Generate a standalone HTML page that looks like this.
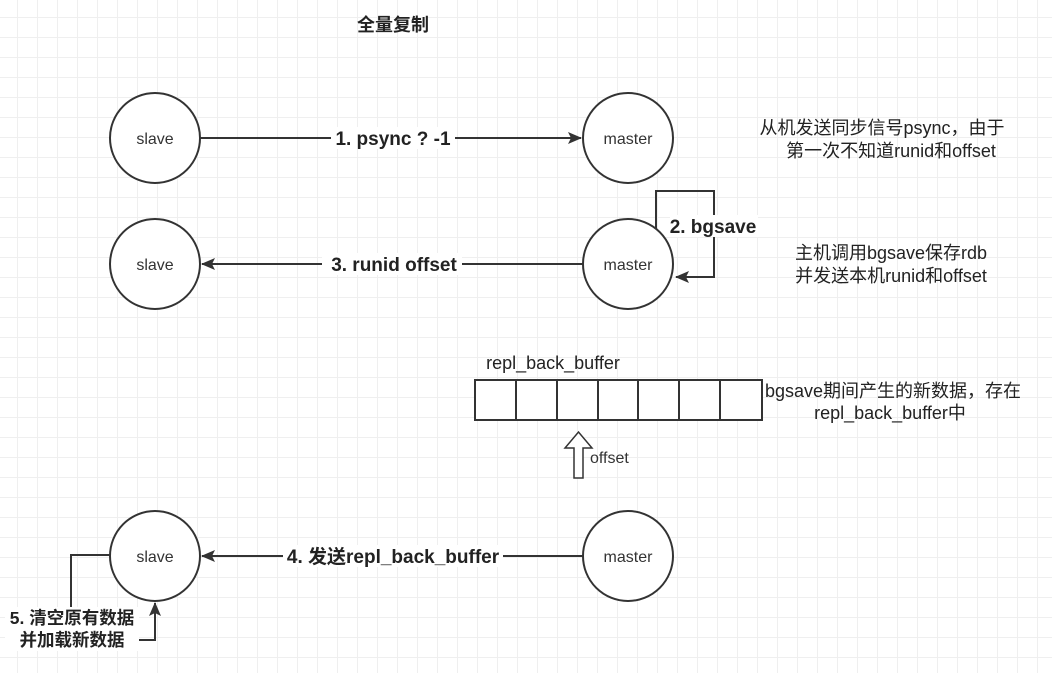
<!DOCTYPE html>
<html><head><meta charset="utf-8"><style>
body{margin:0;width:1052px;height:668px;overflow:hidden;background:#fff;
background-image:linear-gradient(#efefef 1px,transparent 1px),linear-gradient(90deg,#efefef 1px,transparent 1px);
background-size:20px 20px;background-position:-3px -3px;}
text{font-family:"Liberation Sans","Noto Sans CJK SC",sans-serif;}
</style></head><body>
<svg width="1052" height="668" xmlns="http://www.w3.org/2000/svg">
<defs><marker id="b" markerWidth="14" markerHeight="12" refX="13" refY="6" orient="auto" markerUnits="userSpaceOnUse"><path d="M0,0 L14,6 L0,12 L3,6 Z" fill="#333"/></marker></defs>
<g stroke="#333" stroke-width="2" fill="#fff">
<circle cx="155" cy="138" r="45"/><circle cx="628" cy="138" r="45"/>
<circle cx="155" cy="264" r="45"/><circle cx="628" cy="264" r="45"/>
<circle cx="155" cy="556" r="45"/><circle cx="628" cy="556" r="45"/>
</g>
<g stroke="#333" stroke-width="2" fill="none">
<line x1="200" y1="138" x2="581" y2="138" marker-end="url(#b)"/>
<line x1="583" y1="264" x2="202" y2="264" marker-end="url(#b)"/>
<line x1="583" y1="556" x2="202" y2="556" marker-end="url(#b)"/>
<polyline points="656,229 656,191 714,191 714,277 676,277" marker-end="url(#b)"/>
<polyline points="110,555 71,555 71,608"/>
<polyline points="135,640 155,640 155,603" marker-end="url(#b)"/>
</g>
<g stroke="#333" stroke-width="2" fill="#fff">
<rect x="475" y="380" width="287" height="40"/>
<line x1="516" y1="380" x2="516" y2="420"/><line x1="557" y1="380" x2="557" y2="420"/>
<line x1="598" y1="380" x2="598" y2="420"/><line x1="638" y1="380" x2="638" y2="420"/>
<line x1="679" y1="380" x2="679" y2="420"/><line x1="720" y1="380" x2="720" y2="420"/>
<path d="M574,478 L583,478 L583,448 L592,448 L578.5,432 L565,448 L574,448 Z" stroke-width="1.5"/>
</g>
<g font-size="16" fill="#333" text-anchor="middle">
<text x="155" y="144">slave</text><text x="628" y="144">master</text>
<text x="155" y="270">slave</text><text x="628" y="270">master</text>
<text x="155" y="562">slave</text><text x="628" y="562">master</text>
</g>
<g font-size="19" font-weight="bold" fill="#222" text-anchor="middle">
<text x="393" y="31" font-size="18">全量复制</text>
<rect x="331" y="127" width="124" height="22" fill="#fff"/><text x="393" y="145">1. psync ? -1</text>
<rect x="322" y="253" width="140" height="22" fill="#fff"/><text x="394" y="271">3. runid offset</text>
<rect x="670" y="215" width="88" height="22" fill="#fff"/><text x="713" y="233">2. bgsave</text>
<rect x="283" y="545" width="220" height="22" fill="#fff"/><text x="393" y="563">4. 发送repl_back_buffer</text>
<rect x="5" y="607" width="134" height="44" fill="#fff"/>
<text x="72" y="624" font-size="17.5">5. 清空原有数据</text><text x="72" y="646" font-size="17.5">并加载新数据</text>
</g>
<g font-size="18" fill="#222" text-anchor="middle">
<text x="882" y="134">从机发送同步信号psync，由于</text>
<text x="891" y="157">第一次不知道runid和offset</text>
<text x="891" y="259">主机调用bgsave保存rdb</text>
<text x="891" y="282">并发送本机runid和offset</text>
<text x="893" y="397">bgsave期间产生的新数据，存在</text>
<text x="890" y="419">repl_back_buffer中</text>
<text x="553" y="369">repl_back_buffer</text>
</g>
<text x="590" y="463" font-size="16" fill="#333">offset</text>
</svg>
</body></html>
